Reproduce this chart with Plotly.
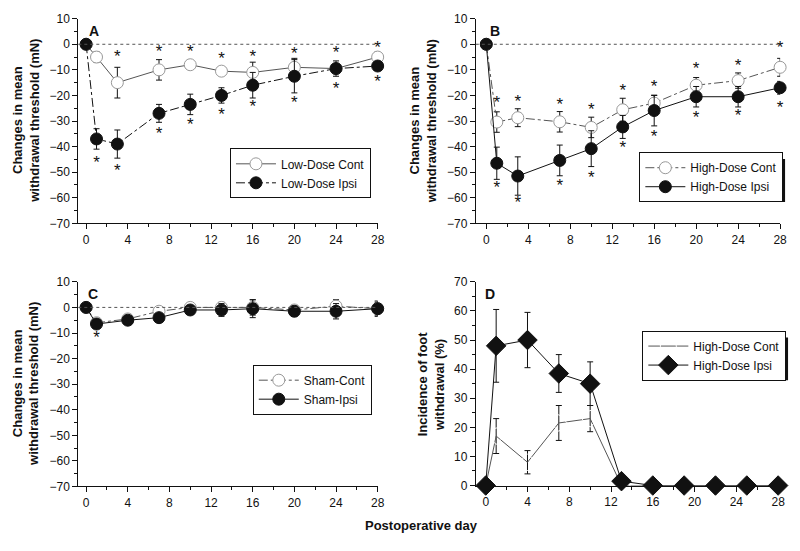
import plotly.graph_objects as go
from plotly.subplots import make_subplots

# ---- panel A: low dose
days_a = [0, 1, 3, 7, 10, 13, 16, 20, 24, 28]
low_cont = [0, -5, -15, -10, -8, -10.5, -11, -9, -9.5, -5]
low_cont_err = [0, 2, 6, 4, 1.5, 1, 4, 3.5, 2, 2]
low_ipsi = [0, -37, -39, -27, -23.5, -20, -16, -12.5, -9.5, -8.5]
low_ipsi_err = [0, 4, 5.5, 3.5, 4, 3, 5, 6.5, 3, 1.5]
low_star_top = [None, None, -5.3, -3.4, -3.4, -6.2, -5.3, -4, -3.8, -1.8]
low_star_bot = [None, -46.6, -49.8, -35.4, -31.7, -27.8, -25, -23.4, -17.6, -15.1]

# ---- panel B: high dose
days_b = [0, 1, 3, 7, 10, 13, 16, 20, 24, 28]
high_cont = [0, -30.4, -28.7, -30.3, -32.5, -25.6, -23, -16, -14.2, -9]
high_cont_err = [0, 4, 3.5, 4, 4, 4.5, 3, 3, 3, 3.5]
high_ipsi = [0, -46.5, -51.5, -45.4, -40.8, -32.3, -25.9, -20.5, -20.5, -17]
high_ipsi_err = [0, 6.3, 7.5, 6, 7, 4.5, 6, 4, 4, 2.5]
high_star_top = [None, -23.3, -22.7, -24, -26, -18.4, -17.1, -10, -8.9, -1.9]
high_star_bot = [None, -56.6, -62.3, -55.6, -52.4, -41, -36.6, -29.1, -28.5, -25.3]

# ---- panel C: sham
days_c = [0, 1, 4, 7, 10, 13, 16, 20, 24, 28]
sham_cont = [0, -6, -4.5, -1.5, 0, 0, 0, -1, 0.5, -0.5]
sham_cont_err = [0, 1, 1, 1, 1.5, 2, 3, 1.5, 2.5, 2.5]
sham_ipsi = [0, -6.5, -5, -4, -1, -1, -0.5, -1.5, -1.5, -0.5]
sham_ipsi_err = [0, 1, 0.8, 1, 1.5, 2.5, 3.5, 2, 3, 3]
sham_star_bot = [None, -12.3, None, None, None, None, None, None, None, None]

# ---- panel D: incidence of foot withdrawal
days_d = [0, 1, 4, 7, 10, 13, 16, 19, 22, 25, 28]
inc_cont = [0, 17, 8, 21.5, 23, 0, 0, 0, 0, 0, 0]
inc_cont_err = [0, 6, 4, 6, 4.5, 0, 0, 0, 0, 0, 0]
inc_ipsi = [0, 48, 50, 38.5, 35, 1.5, 0, 0, 0, 0, 0]
inc_ipsi_err = [0, 12.5, 9.5, 6.5, 7.5, 0, 0, 0, 0, 0, 0]

FONT = "Liberation Sans, Arial, sans-serif"
BLACK = "#111111"
GREY = "#555555"
W, H = 800, 551


def px_x(p):
    return p / W


def px_y(p):
    return 1 - p / H


fig = make_subplots(rows=2, cols=2)


def err(values):
    return dict(type="data", array=values, visible=True, color=BLACK, thickness=1, width=3)


def series(x, y, e, name, legend, row, col, symbol, filled, dash, size=12):
    fig.add_trace(go.Scatter(
        x=x, y=y, error_y=err(e), name=name, legend=legend, mode="lines+markers",
        line=dict(color=BLACK if filled else GREY, width=1, dash=dash),
        marker=dict(symbol=symbol, size=size,
                    color=BLACK if filled else "white",
                    line=dict(color=BLACK if filled else "#999999", width=1)),
        cliponaxis=False,
    ), row=row, col=col)


def stars(x, y, row, col):
    fig.add_trace(go.Scatter(
        x=x, y=y, mode="text", text=["*"] * len(x), textposition="middle center",
        textfont=dict(family=FONT, size=17, color=BLACK), showlegend=False,
        hoverinfo="skip", cliponaxis=False,
    ), row=row, col=col)


# A
series(days_a, low_cont, low_cont_err, "Low-Dose Cont", "legend", 1, 1, "circle", False, "solid")
series(days_a, low_ipsi, low_ipsi_err, "Low-Dose Ipsi", "legend", 1, 1, "circle", True, "dashdot")
stars(days_a, low_star_top, 1, 1)
stars(days_a, low_star_bot, 1, 1)
# B
series(days_b, high_cont, high_cont_err, "High-Dose Cont", "legend2", 1, 2, "circle", False, "dashdot")
series(days_b, high_ipsi, high_ipsi_err, "High-Dose Ipsi", "legend2", 1, 2, "circle", True, "solid")
stars(days_b, high_star_top, 1, 2)
stars(days_b, high_star_bot, 1, 2)
# C
series(days_c, sham_cont, sham_cont_err, "Sham-Cont", "legend3", 2, 1, "circle", False, "dashdot")
series(days_c, sham_ipsi, sham_ipsi_err, "Sham-Ipsi", "legend3", 2, 1, "circle", True, "solid")
stars(days_c, sham_star_bot, 2, 1)
# D
series(days_d, inc_cont, inc_cont_err, "High-Dose Cont", "legend4", 2, 2, "diamond-open", False, "solid", 13)
series(days_d, inc_ipsi, inc_ipsi_err, "High-Dose Ipsi", "legend4", 2, 2, "diamond", True, "solid", 15)

for r, c in [(1, 1), (1, 2), (2, 1)]:
    fig.add_hline(y=0, line=dict(color=GREY, width=1, dash="dot"), row=r, col=c)

axis_common = dict(showline=True, linecolor=BLACK, linewidth=1, ticks="outside", ticklen=5,
                   tickcolor=BLACK, showgrid=False, zeroline=False, mirror=False,
                   tickfont=dict(family=FONT, size=12, color=BLACK))
fig.update_xaxes(**axis_common, tickvals=[0, 4, 8, 12, 16, 20, 24, 28],
                 minor=dict(ticks="outside", dtick=2, ticklen=3, tickcolor=BLACK))
fig.update_yaxes(**axis_common, dtick=10,
                 minor=dict(ticks="outside", dtick=5, ticklen=3, tickcolor=BLACK))

fig.update_layout(
    xaxis=dict(domain=[px_x(79), px_x(381)], range=[-0.75, 28]),
    xaxis2=dict(domain=[px_x(480), px_x(787)], range=[-1.0, 28]),
    xaxis3=dict(domain=[px_x(79), px_x(381)], range=[-0.75, 28]),
    xaxis4=dict(domain=[px_x(480), px_x(785)], range=[-0.95, 28]),
    yaxis=dict(domain=[px_y(222), px_y(12)], range=[-70, 10]),
    yaxis2=dict(domain=[px_y(222), px_y(12)], range=[-70, 10]),
    yaxis3=dict(domain=[px_y(492), px_y(282)], range=[-70, 10]),
    yaxis4=dict(domain=[px_y(491), px_y(282)], range=[0, 70]),
)

legend_style = dict(bgcolor="white", bordercolor=BLACK, borderwidth=1,
                    font=dict(family=FONT, size=12, color=BLACK),
                    xanchor="left", yanchor="top", tracegroupgap=0, itemwidth=40)
# legend box top-left corners and sizes on screen (px)
boxes = {"legend": (232, 148, 138, 44), "legend2": (645, 152, 143, 44),
         "legend3": (255, 370, 112, 44), "legend4": (648, 335, 143, 44)}
fig.update_layout(**{
    name: dict(x=px_x(bx), y=px_y(by - 3), **legend_style)
    for name, (bx, by, _, _) in boxes.items()
})

# legend drop shadows
for name, (bx, by, w, h) in boxes.items():
    fig.add_shape(type="rect", xref="paper", yref="paper", layer="below",
                  x0=px_x(bx + 4), x1=px_x(bx + w + 4),
                  y0=px_y(by + h + 4), y1=px_y(by + 4),
                  fillcolor=BLACK, line=dict(width=0))

ann = []
for label, x, y in [("A", 88, 14), ("B", 492, 14), ("C", 87, 284), ("D", 487, 284)]:
    ann.append(dict(text=label, x=px_x(x), y=px_y(y), xref="paper", yref="paper",
                    xanchor="left", yanchor="top", showarrow=False,
                    font=dict(family=FONT, size=14, color=BLACK, weight="bold")))
for text, x, y in [("Changes in mean<br>withdrawal threshold (mN)", 26, 117),
                   ("Changes in mean<br>withdrawal threshold (mN)", 427, 117),
                   ("Changes in mean<br>withdrawal threshold (mN)", 26, 387),
                   ("Incidence of foot<br>withdrawal (%)", 435, 387)]:
    ann.append(dict(text=text, x=px_x(x), y=px_y(y), xref="paper", yref="paper",
                    textangle=-90, showarrow=False, xanchor="center", yanchor="middle",
                    font=dict(family=FONT, size=13, color=BLACK, weight="bold")))
ann.append(dict(text="Postoperative day", x=px_x(425), y=px_y(532), xref="paper", yref="paper",
                showarrow=False, xanchor="center", yanchor="middle",
                font=dict(family=FONT, size=13, color=BLACK, weight="bold")))

fig.update_layout(annotations=ann, width=W, height=H, margin=dict(l=0, r=0, t=0, b=0),
                  plot_bgcolor="white", paper_bgcolor="white")

# drop the default body margin so the figure fills the window exactly
fig.write_html("out.html", config={"displayModeBar": False},
               post_script="document.body.style.margin = '0';")
